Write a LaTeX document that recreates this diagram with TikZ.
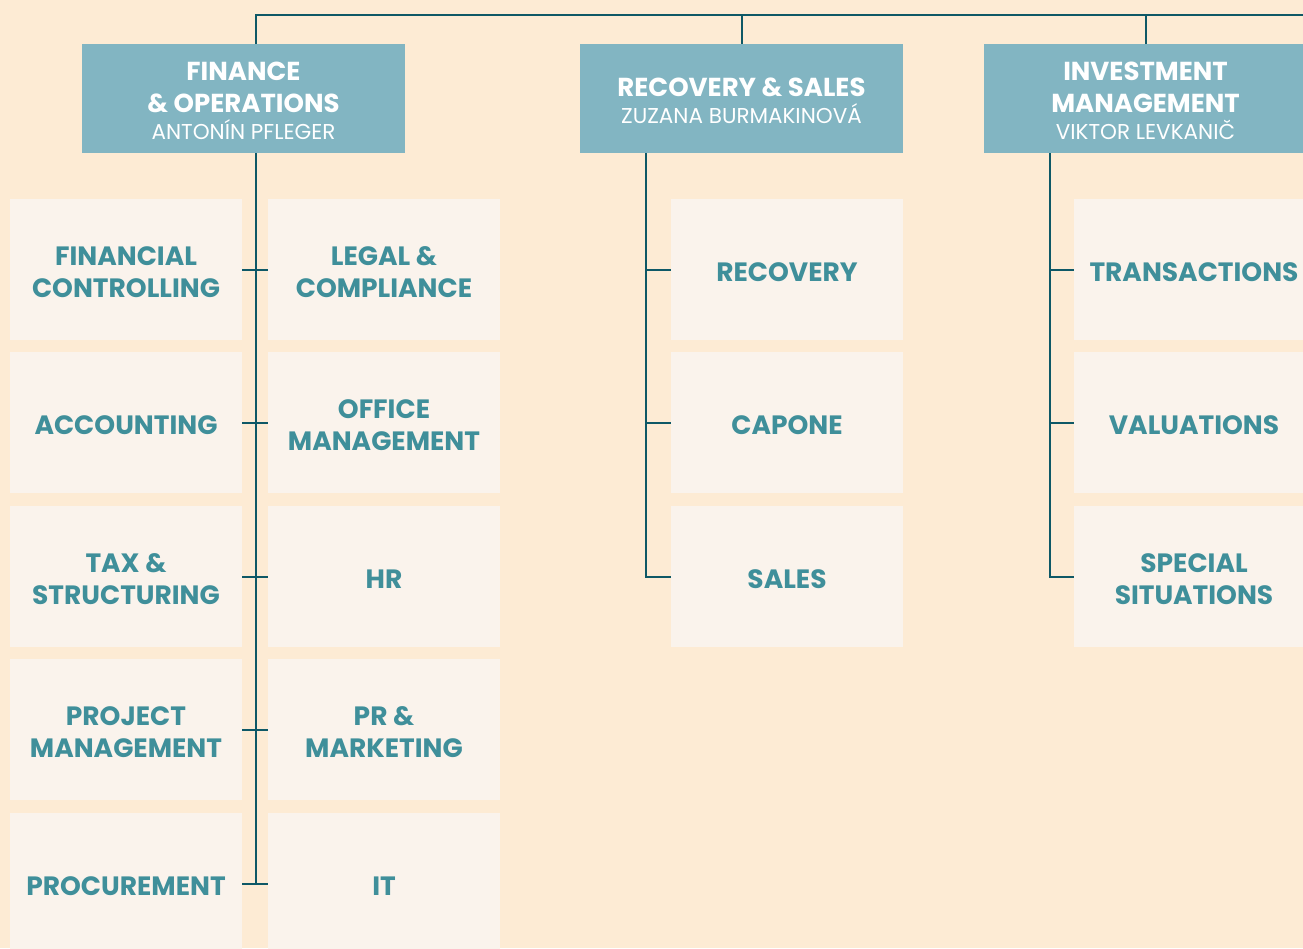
\documentclass[tikz,border=0pt]{standalone}
\usepackage{fontspec}
\setmainfont{Poppins}
\definecolor{bg}{HTML}{FDEBD4}
\definecolor{headc}{HTML}{82B5C2}
\definecolor{subc}{HTML}{FAF3EC}
\definecolor{subtext}{HTML}{3F8F9A}
\definecolor{connc}{HTML}{0E5866}
\newcommand{\fl}{\rule{0pt}{24.5pt}}
\newcommand{\hl}{\rule{0pt}{23.8pt}}
\newcommand{\pname}[1]{{\mdseries\fontsize{21.5}{27}\selectfont #1}}
\begin{document}
\begin{tikzpicture}[x=1pt,y=-1pt,
  headbox/.style={fill=headc, text=white, minimum width=323, minimum height=109, inner sep=0pt, align=center, font=\bfseries\fontsize{26}{32}\selectfont},
  unitbox/.style={fill=subc, text=subtext, minimum width=232, minimum height=141, inner sep=0pt, align=center, font=\bfseries\fontsize{26.5}{32}\selectfont},
  wideunit/.style={unitbox, minimum width=240},
  link/.style={draw=connc, line width=2pt, line join=miter}]
\useasboundingbox (0,0) rectangle (1303,948);
\fill[bg] (0,0) rectangle (1303,948);
\clip (0,0) rectangle (1303,948);
% heads
\node[headbox] (finH) at (243.5,98.5) {\hl FINANCE\\\& OPERATIONS\\[-5pt]\pname{ANTONÍN PFLEGER}};
\node[headbox] (recH) at (741.5,98.5) {\hl RECOVERY \& SALES\\[-5pt]\pname{ZUZANA BURMAKINOVÁ}};
\node[headbox] (invH) at (1145.5,98.5) {\hl INVESTMENT\\MANAGEMENT\\[-5pt]\pname{VIKTOR LEVKANIČ}};
% finance units
\node[unitbox] (fc) at (126,269.5) {\fl FINANCIAL\\CONTROLLING};
\node[unitbox] (acc) at (126,422.5) {\fl ACCOUNTING};
\node[unitbox] (tax) at (126,576.5) {\fl TAX \&\\STRUCTURING};
\node[unitbox] (pm) at (126,729.5) {\fl PROJECT\\MANAGEMENT};
\node[unitbox] (proc) at (126,883.5) {\fl PROCUREMENT};
\node[unitbox] (lc) at (384,269.5) {\fl LEGAL \&\\COMPLIANCE};
\node[unitbox] (om) at (384,422.5) {\fl OFFICE\\MANAGEMENT};
\node[unitbox] (hr) at (384,576.5) {\fl HR};
\node[unitbox] (prm) at (384,729.5) {\fl PR \&\\MARKETING};
\node[unitbox] (it) at (384,883.5) {\fl IT};
% recovery units
\node[unitbox] (rec) at (787,269.5) {\fl RECOVERY};
\node[unitbox] (cap) at (787,422.5) {\fl CAPONE};
\node[unitbox] (sal) at (787,576.5) {\fl SALES};
% investment units
\node[wideunit] (tr) at (1194,269.5) {\fl TRANSACTIONS};
\node[wideunit] (val) at (1194,422.5) {\fl VALUATIONS};
\node[wideunit] (ss) at (1194,576.5) {\fl SPECIAL\\SITUATIONS};
% connectors
\coordinate (finTop) at (256,15);
\coordinate (topR) at (1310,15);
\coordinate (recT) at (646,153);
\coordinate (invT) at (1050,153);
\draw[link] (topR) -- (finTop) -- (finTop |- finH.north);
\draw[link] (recH.north |- finTop) -- (recH.north);
\draw[link] (invH.north |- finTop) -- (invH.north);
\draw[link] (finTop |- finH.south) -- (finTop |- proc.east);
\draw[link] (fc.east) -- (lc.west);
\draw[link] (acc.east) -- (om.west);
\draw[link] (tax.east) -- (hr.west);
\draw[link] (pm.east) -- (prm.west);
\draw[link] (proc.east) -- (it.west);
\draw[link] (recT |- recH.south) -- (recT |- sal.west) -- (sal.west);
\draw[link] (recT |- rec.west) -- (rec.west);
\draw[link] (recT |- cap.west) -- (cap.west);
\draw[link] (invT |- invH.south) -- (invT |- ss.west) -- (ss.west);
\draw[link] (invT |- tr.west) -- (tr.west);
\draw[link] (invT |- val.west) -- (val.west);
\end{tikzpicture}
\end{document}
